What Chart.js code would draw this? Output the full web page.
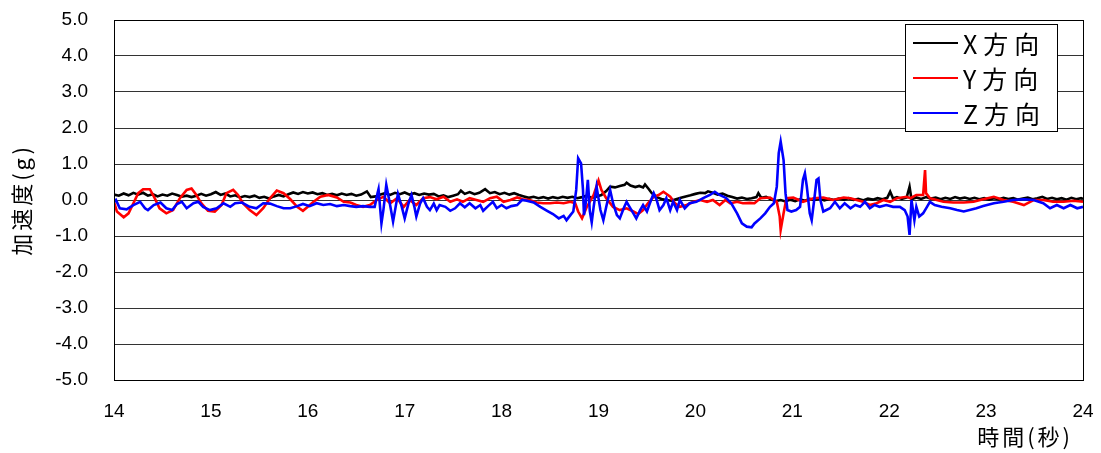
<!DOCTYPE html>
<html>
<head>
<meta charset="utf-8">
<script src="https://cdn.jsdelivr.net/npm/chart.js@4/dist/chart.umd.min.js"></script>
<style>
  html, body { margin: 0; padding: 0; background: #fff; }
  #wrap { width: 1101px; height: 453px; position: relative; }
</style>
</head>
<body>
<div id="wrap"><canvas id="accChart"></canvas></div>
<script>
'use strict';

// X方向 (black)
var tX = [14.00,14.05,14.10,14.15,14.20,14.25,14.30,14.35,14.40,14.45,14.50,14.55,14.60,14.65,14.70,14.75,14.80,14.85,14.90,14.95,
  15.00,15.05,15.10,15.15,15.20,15.25,15.30,15.35,15.40,15.45,15.50,15.55,15.60,15.65,15.70,15.75,15.80,15.85,15.90,15.95,
  16.00,16.05,16.10,16.15,16.20,16.25,16.30,16.35,16.40,16.45,16.50,16.55,16.61,16.65,16.70,16.75,16.80,16.85,16.90,16.95,
  17.00,17.05,17.10,17.15,17.20,17.25,17.30,17.35,17.40,17.45,17.50,17.55,17.58,17.62,17.67,17.72,17.77,17.83,17.88,17.93,
  17.98,18.03,18.08,18.13,18.18,18.23,18.28,18.33,18.38,18.43,18.48,18.53,18.58,18.63,18.68,18.73,18.78,18.83,18.88,18.93,
  18.98,19.03,19.08,19.12,19.17,19.22,19.27,19.29,19.33,19.38,19.42,19.46,19.48,19.52,19.55,19.60,19.65,19.70,19.75,19.80,
  19.85,19.90,19.95,20.00,20.05,20.10,20.13,20.18,20.23,20.28,20.33,20.38,20.43,20.48,20.53,20.58,20.63,20.65,20.68,20.73,
  20.78,20.83,20.88,20.93,20.98,21.03,21.08,21.13,21.18,21.23,21.28,21.33,21.38,21.43,21.48,21.53,21.58,21.63,21.68,21.73,
  21.78,21.83,21.88,21.93,21.98,22.01,22.04,22.08,22.13,22.18,22.21,22.23,22.28,22.33,22.38,22.43,22.48,22.53,22.58,22.63,
  22.68,22.73,22.78,22.83,22.88,22.93,22.98,23.03,23.08,23.13,23.18,23.23,23.28,23.33,23.38,23.43,23.48,23.53,23.58,23.63,
  23.68,23.73,23.78,23.83,23.88,23.93,23.98,24.00];
var gX = [0.15,0.12,0.18,0.13,0.20,0.15,0.20,0.12,0.16,0.10,0.15,0.12,0.18,0.14,0.09,0.12,0.08,0.12,0.17,0.12,
  0.16,0.22,0.14,0.18,0.10,0.13,0.07,0.11,0.08,0.12,0.06,0.09,0.04,0.10,0.14,0.10,0.16,0.21,0.17,0.22,
  0.18,0.21,0.16,0.19,0.14,0.17,0.13,0.18,0.14,0.17,0.12,0.15,0.24,0.08,0.10,0.15,0.19,0.14,0.20,0.16,
  0.21,0.15,0.19,0.14,0.18,0.15,0.17,0.10,0.13,0.08,0.12,0.16,0.26,0.17,0.22,0.16,0.20,0.30,0.19,0.22,
  0.16,0.20,0.15,0.19,0.14,0.10,0.06,0.09,0.05,0.08,0.04,0.08,0.05,0.09,0.06,0.09,0.05,0.08,0.12,0.06,
  0.10,0.14,0.25,0.37,0.35,0.39,0.42,0.48,0.40,0.36,0.39,0.35,0.43,0.30,0.19,0.08,0.03,0.00,-0.02,0.02,
  0.06,0.10,0.13,0.17,0.20,0.19,0.24,0.20,0.15,0.18,0.12,0.08,0.04,0.07,0.03,0.05,0.08,0.19,0.06,0.09,
  0.02,-0.03,0.00,-0.04,0.01,-0.03,0.02,-0.02,0.03,0.00,0.04,-0.01,0.03,0.00,0.04,0.01,0.05,0.00,0.03,-0.01,
  0.04,0.01,0.05,0.02,0.06,0.23,0.04,0.08,0.03,0.07,0.37,0.02,0.07,0.03,0.08,0.04,0.07,0.02,0.06,0.03,
  0.08,0.04,0.07,0.03,0.06,0.02,0.05,0.01,0.05,0.02,0.06,0.03,0.05,0.01,0.04,0.07,0.02,0.05,0.09,0.03,
  0.06,0.02,0.05,0.01,0.06,0.02,0.05,0.03];

// Y方向 (red)
var tY = [14.00,14.03,14.10,14.15,14.20,14.25,14.30,14.37,14.42,14.47,14.54,14.61,14.68,14.75,14.80,14.85,14.90,14.97,15.04,15.11,
  15.16,15.23,15.28,15.33,15.40,15.47,15.54,15.61,15.68,15.75,15.82,15.89,15.95,16.00,16.06,16.13,16.21,16.30,16.37,16.44,
  16.50,16.57,16.64,16.71,16.78,16.85,16.92,16.99,17.05,17.12,17.19,17.26,17.33,17.40,17.47,17.54,17.60,17.67,17.74,17.81,
  17.88,17.95,18.02,18.09,18.16,18.22,18.29,18.36,18.43,18.50,18.57,18.64,18.71,18.76,18.79,18.83,18.88,18.91,18.95,19.00,
  19.03,19.08,19.15,19.22,19.29,19.36,19.41,19.46,19.51,19.57,19.62,19.67,19.74,19.79,19.84,19.91,19.98,20.05,20.12,20.18,
  20.25,20.31,20.36,20.43,20.49,20.56,20.61,20.67,20.77,20.84,20.87,20.88,20.91,20.94,21.01,21.11,21.22,21.32,21.42,21.53,
  21.60,21.73,21.80,21.87,21.94,22.01,22.08,22.18,22.22,22.28,22.35,22.37,22.38,22.42,22.49,22.56,22.66,22.77,22.87,22.97,
  23.08,23.18,23.28,23.39,23.49,23.59,23.69,23.80,23.90,24.00];
var gY = [-0.05,-0.32,-0.48,-0.37,-0.09,0.19,0.30,0.30,0.05,-0.23,-0.37,-0.28,0.05,0.28,0.32,0.14,-0.09,-0.30,-0.32,-0.14,
  0.19,0.28,0.14,-0.09,-0.28,-0.42,-0.23,0.05,0.26,0.19,0.02,-0.19,-0.30,-0.19,-0.05,0.09,0.14,0.07,-0.05,-0.07,
  -0.14,-0.19,-0.14,0.00,0.09,-0.09,0.05,-0.19,0.00,-0.14,0.05,0.08,0.02,0.09,-0.05,0.02,-0.05,0.05,0.00,-0.05,
  0.05,0.09,-0.05,0.00,0.07,0.02,0.00,-0.07,-0.09,-0.09,-0.07,-0.09,-0.05,-0.09,-0.32,-0.51,-0.19,-0.05,0.14,0.54,
  0.28,0.05,-0.19,-0.28,-0.23,-0.32,-0.39,-0.28,-0.09,0.09,0.14,0.23,0.09,-0.09,-0.19,-0.14,-0.05,0.00,-0.05,0.00,
  -0.14,0.00,-0.09,-0.05,-0.09,-0.08,-0.09,0.05,0.07,-0.05,-0.46,-0.83,-0.37,0.05,0.07,-0.05,0.05,0.07,0.00,0.07,
  0.05,-0.05,-0.14,-0.09,0.00,-0.05,0.05,0.09,0.05,0.14,0.14,0.83,0.19,0.05,0.00,-0.05,-0.07,-0.07,-0.05,0.02,
  0.09,0.00,-0.05,-0.14,0.00,0.00,-0.05,-0.05,-0.02,-0.05];

// Z方向 (blue)
var tZ = [14.00,14.02,14.06,14.13,14.20,14.27,14.32,14.35,14.41,14.48,14.54,14.60,14.65,14.70,14.75,14.82,14.87,14.92,14.99,15.06,
  15.13,15.20,15.25,15.32,15.40,15.47,15.54,15.61,15.68,15.75,15.82,15.89,15.95,16.02,16.09,16.16,16.23,16.30,16.37,16.44,
  16.50,16.57,16.64,16.69,16.72,16.73,16.76,16.78,16.81,16.84,16.88,16.93,16.97,17.00,17.04,17.07,17.10,17.12,17.16,17.19,
  17.23,17.26,17.30,17.33,17.36,17.42,17.47,17.52,17.57,17.62,17.67,17.73,17.78,17.81,17.86,17.91,17.95,18.00,18.05,18.10,
  18.16,18.21,18.26,18.33,18.40,18.47,18.53,18.59,18.64,18.67,18.71,18.74,18.77,18.79,18.82,18.84,18.85,18.87,18.89,18.91,
  18.93,18.95,18.98,19.02,19.05,19.08,19.12,19.15,19.19,19.22,19.26,19.29,19.32,19.36,19.39,19.43,19.46,19.50,19.53,19.57,
  19.60,19.63,19.67,19.70,19.74,19.77,19.81,19.84,19.89,19.94,20.01,20.08,20.15,20.20,20.25,20.32,20.37,20.43,20.48,20.53,
  20.58,20.61,20.67,20.72,20.77,20.81,20.84,20.86,20.88,20.91,20.93,20.95,20.99,21.04,21.08,21.11,21.13,21.15,21.18,21.20,
  21.23,21.25,21.27,21.29,21.32,21.39,21.44,21.49,21.54,21.60,21.65,21.70,21.75,21.80,21.85,21.90,21.97,22.04,22.11,22.16,
  22.19,22.21,22.23,22.26,22.28,22.31,22.35,22.39,22.42,22.47,22.54,22.63,22.70,22.77,22.83,22.90,22.97,23.08,23.18,23.28,
  23.39,23.49,23.59,23.66,23.73,23.80,23.87,23.94,24.00];
var gZ = [-0.05,0.00,-0.23,-0.26,-0.14,-0.05,-0.23,-0.28,-0.14,-0.07,-0.23,-0.28,-0.11,-0.05,-0.23,-0.09,-0.05,-0.19,-0.28,-0.23,
  -0.09,-0.19,-0.09,-0.07,-0.19,-0.23,-0.09,-0.10,-0.17,-0.23,-0.23,-0.17,-0.11,-0.17,-0.09,-0.14,-0.11,-0.17,-0.14,-0.17,
  -0.19,-0.17,-0.19,-0.19,0.19,0.30,-0.65,-0.28,0.42,0.00,-0.60,0.17,-0.19,-0.51,-0.09,0.14,-0.19,-0.46,-0.09,0.05,
  -0.19,-0.28,-0.10,-0.28,-0.14,-0.19,-0.30,-0.23,-0.09,-0.20,-0.09,-0.23,-0.14,-0.30,-0.17,-0.05,-0.23,-0.14,-0.23,-0.17,
  -0.14,0.00,-0.02,-0.07,-0.19,-0.30,-0.39,-0.51,-0.44,-0.56,-0.42,-0.32,0.28,1.16,1.02,0.28,-0.42,-0.05,0.56,-0.30,
  -0.62,-0.19,0.37,-0.28,-0.56,-0.19,0.28,-0.09,-0.42,-0.51,-0.23,-0.05,-0.19,-0.37,-0.51,-0.28,-0.14,-0.32,-0.09,0.19,
  0.00,-0.28,-0.14,0.05,-0.28,-0.05,-0.28,0.00,-0.23,-0.09,-0.05,0.05,0.14,0.23,0.14,0.05,-0.09,-0.37,-0.65,-0.74,
  -0.76,-0.65,-0.51,-0.37,-0.19,-0.09,0.37,1.30,1.62,1.11,0.19,-0.28,-0.32,-0.28,-0.19,0.56,0.74,0.37,-0.37,-0.56,
  0.09,0.56,0.60,0.00,-0.32,-0.23,-0.05,-0.23,-0.09,-0.23,-0.14,-0.19,-0.05,-0.23,-0.14,-0.19,-0.14,-0.19,-0.19,-0.28,
  -0.46,-0.97,0.00,-0.56,-0.19,-0.46,-0.37,-0.19,-0.05,-0.14,-0.19,-0.23,-0.28,-0.32,-0.28,-0.23,-0.17,-0.09,-0.05,0.00,
  0.02,0.00,-0.09,-0.23,-0.14,-0.23,-0.14,-0.23,-0.19];

var seriesNames = ['X方向', 'Y方向', 'Z方向'];
var seriesColors = ['#000000', '#ff0000', '#0000ff'];
var xTicks = [14, 15, 16, 17, 18, 19, 20, 21, 22, 23, 24];
var yTicks = [5, 4, 3, 2, 1, 0, -1, -2, -3, -4, -5];
var xTitle = '時間(秒)';
var yTitle = '加速度(g)';

var FONT = "'Liberation Sans', Arial, 'Noto Sans CJK JP', sans-serif";
var JFONT = "'Noto Sans CJK JP', 'Liberation Sans', sans-serif";

function pts(ts, gs) {
  return ts.map(function(t, i) { return { x: t, y: gs[i] }; });
}

// legend box inside the plot (upper right) + axis titles
var decor = {
  id: 'decor',
  afterDraw: function(chart) {
    var ctx = chart.ctx;
    ctx.save();
    ctx.fillStyle = '#fff';
    ctx.fillRect(905.5, 24.5, 152, 107);
    ctx.strokeStyle = '#000';
    ctx.lineWidth = 1;
    ctx.strokeRect(905.5, 24.5, 152, 107);
    var rows = [43, 78, 113];
    chart.data.datasets.forEach(function(ds, i) {
      ctx.strokeStyle = ds.borderColor;
      ctx.lineWidth = 2;
      ctx.beginPath();
      ctx.moveTo(913, rows[i]);
      ctx.lineTo(958, rows[i]);
      ctx.stroke();
      ctx.fillStyle = '#000';
      ctx.font = '25px ' + JFONT;
      ctx.letterSpacing = '6px';
      ctx.textBaseline = 'middle';
      ctx.textAlign = 'left';
      ctx.fillText(ds.label, 963, rows[i] + 1);
    });

    // x title, right side below tick labels
    ctx.font = '22px ' + JFONT;
    ctx.letterSpacing = '3px';
    ctx.textAlign = 'right';
    ctx.textBaseline = 'middle';
    ctx.fillStyle = '#000';
    ctx.fillText(xTitle, 1073, 437);

    // y title, rotated
    ctx.translate(22, 200);
    ctx.rotate(-Math.PI / 2);
    ctx.textAlign = 'center';
    ctx.letterSpacing = '3px';
    ctx.fillText(yTitle, 0, 0);
    ctx.restore();
  }
};

// frame around plot area
var frame = {
  id: 'frame',
  afterDatasetsDraw: function(chart) {
    var a = chart.chartArea, ctx = chart.ctx;
    ctx.save();
    ctx.strokeStyle = '#000';
    ctx.lineWidth = 1;
    ctx.strokeRect(Math.round(a.left) + 0.5, Math.round(a.top) + 0.5, Math.round(a.right - a.left), Math.round(a.bottom - a.top));
    ctx.restore();
  }
};

var ctx = document.getElementById('accChart');
new Chart(ctx, {
  type: 'line',
  data: {
    datasets: [
      { label: seriesNames[0], data: pts(tX, gX), borderColor: seriesColors[0], order: 3 },
      { label: seriesNames[1], data: pts(tY, gY), borderColor: seriesColors[1], order: 2 },
      { label: seriesNames[2], data: pts(tZ, gZ), borderColor: seriesColors[2], order: 1 }
    ]
  },
  options: {
    responsive: true,
    maintainAspectRatio: false,
    animation: false,
    parsing: false,
    elements: {
      line: { borderWidth: 2.6, tension: 0, fill: false },
      point: { radius: 0 }
    },
    layout: { padding: { left: 0, right: 18, top: 20, bottom: 0 } },
    plugins: { legend: { display: false }, tooltip: { enabled: false } },
    scales: {
      x: {
        type: 'linear',
        min: 14, max: 24,
        afterBuildTicks: function(s) { s.ticks = xTicks.map(function(v) { return { value: v }; }); },
        afterFit: function(s) { s.height = 73; s.paddingLeft = 0; s.paddingRight = 0; },
        grid: { display: false, drawTicks: false },
        border: { display: true, color: '#000' },
        ticks: { color: '#000', font: { family: FONT, size: 19 }, padding: 20, maxRotation: 0 }
      },
      y: {
        min: -5, max: 5,
        afterBuildTicks: function(s) { s.ticks = yTicks.map(function(v) { return { value: v }; }); },
        afterFit: function(s) { s.width = 114; s.paddingTop = 0; s.paddingBottom = 0; },
        grid: { color: '#333', lineWidth: 1, drawTicks: false },
        border: { display: true, color: '#000' },
        ticks: {
          color: '#000', font: { family: FONT, size: 19 }, padding: 26,
          callback: function(v) { return v.toFixed(1); }
        }
      }
    }
  },
  plugins: [frame, decor]
});
</script>
</body>
</html>
